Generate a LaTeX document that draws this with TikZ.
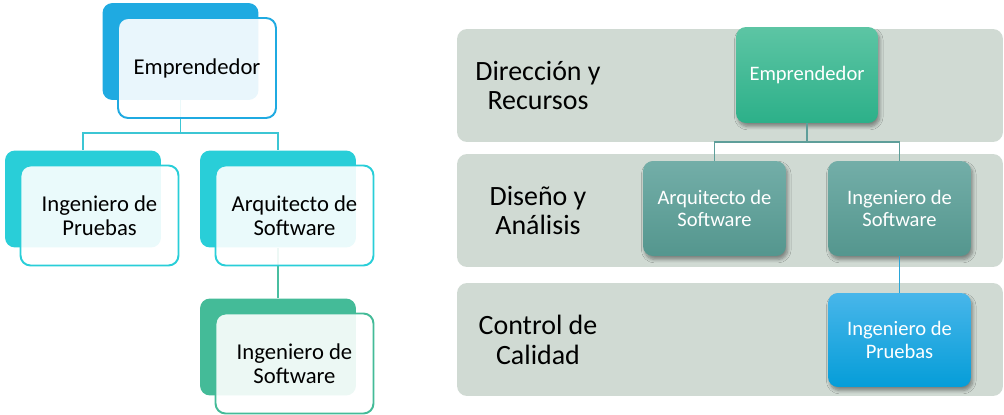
\documentclass[tikz,border=0pt]{standalone}
\usepackage{fontspec}
\setmainfont{Carlito}
\usetikzlibrary{positioning,calc,shadows.blur}

\definecolor{empBlue}{RGB}{31,170,225}
\definecolor{pruCyan}{RGB}{41,206,216}
\definecolor{ingGreen}{RGB}{68,187,152}
\definecolor{linkCyan}{RGB}{60,198,212}
\definecolor{linkGreen}{RGB}{72,190,160}
\definecolor{laneGray}{RGB}{208,218,211}
\definecolor{empTop}{RGB}{93,197,164}
\definecolor{empBot}{RGB}{44,176,137}
\definecolor{tealTop}{RGB}{115,174,168}
\definecolor{tealBot}{RGB}{84,150,142}
\definecolor{skyTop}{RGB}{72,182,234}
\definecolor{skyMid}{RGB}{20,175,234}
\definecolor{skyBot}{RGB}{5,157,216}
\definecolor{linkTeal}{RGB}{94,158,154}
\definecolor{linkBlue}{RGB}{43,166,216}

\tikzset{
  backbox/.style={rectangle, rounded corners=0.2cm, minimum width=3.12cm,
    minimum height=1.94cm, inner sep=0pt, fill=#1},
  frontbox/.style={rectangle, rounded corners=0.2cm, minimum width=3.16cm,
    minimum height=2cm, inner sep=0pt, draw=#1, line width=1.1pt,
    fill=white, fill opacity=0.9, text opacity=1, align=center,
    font=\fontsize{12.9}{13.6}\selectfont},
  link/.style={draw=#1, line width=1.1pt},
  lane/.style={rectangle, rounded corners=0.2cm, minimum width=10.92cm,
    minimum height=2.26cm, inner sep=0pt, fill=laneGray},
  lanelabel/.style={align=center, inner sep=0pt,
    font=\fontsize{15.9}{17}\selectfont},
  rolebox/.style={rectangle, rounded corners=0.2cm, minimum width=2.86cm,
    minimum height=1.9cm, inner sep=0pt, text=white, align=center,
    font=\fontsize{11.7}{12.8}\selectfont,
    blur shadow={shadow xshift=1pt, shadow yshift=-2pt, shadow blur steps=6}},
}

\begin{document}
\begin{tikzpicture}[x=0.02cm,y=-0.02cm]
    \useasboundingbox (0,0) rectangle (1004,415);
    % left: hierarchy
    \node[backbox=empBlue] (empB) at (180.5,51.5) {};
    \node[backbox=pruCyan] (pruB) at (83,199) {};
    \node[backbox=pruCyan] (arqB) at (278,199) {};
    \node[backbox=ingGreen] (ingB) at (278,347) {};
    \draw[link=linkCyan] (empB.south) -- ++(0,33) -| (pruB.north);
    \draw[link=linkCyan] (empB.south) -- ++(0,33) -| (arqB.north);
    \draw[link=linkGreen] (arqB.south) -- (ingB.north);
    \node[frontbox=empBlue] (empF) at ($(empB)+(16.5,16.5)$) {Emprendedor};
    \node[frontbox=pruCyan] (pruF) at ($(pruB)+(16.5,16.5)$) {Ingeniero de\\Pruebas};
    \node[frontbox=pruCyan] (arqF) at ($(arqB)+(16.5,16.5)$) {Arquitecto de\\Software};
    \node[frontbox=ingGreen] (ingF) at ($(ingB)+(16.5,16.5)$) {Ingeniero de\\Software};

    % right: lanes
    \node[lane] (laneDir) at (730,85.5) {};
    \node[lane] (laneDis) at (730,210.5) {};
    \node[lane] (laneCal) at (730,339.5) {};
    \node[lanelabel] (labDir) at (538,85.5) {Dirección y\\Recursos};
    \node[lanelabel] (labDis) at (538,210.5) {Diseño y\\Análisis};
    \node[lanelabel] (labCal) at (538,339.5) {Control de\\Calidad};

    \node[rolebox, minimum width=2.84cm, minimum height=1.92cm,
      top color=empTop, bottom color=empBot] (remp) at (807,75) {Emprendedor};
    \node[rolebox, top color=tealTop, bottom color=tealBot] (rarq) at (714.5,208.5) {Arquitecto de\\Software};
    \node[rolebox, top color=tealTop, bottom color=tealBot] (rsof) at (899.5,208.5) {Ingeniero de\\Software};
    \node[rolebox, minimum height=1.88cm, top color=skyTop, middle color=skyMid,
      bottom color=skyBot] (rpru) at (899.5,340) {Ingeniero de\\Pruebas};
    \draw[link=linkTeal] (remp.south) -- ++(0,19) -| (rarq.north);
    \draw[link=linkTeal] (remp.south) -- ++(0,19) -| (rsof.north);
    \draw[link=linkBlue] (rsof.south) -- (rpru.north);
\end{tikzpicture}
\end{document}
